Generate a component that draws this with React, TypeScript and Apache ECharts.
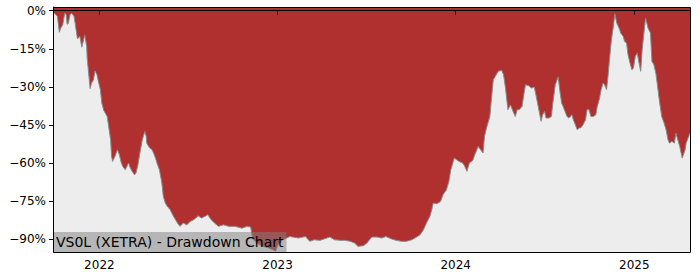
import React, { useEffect, useRef } from "react";
import * as echarts from "echarts";

const dates: string[] = [
  "2021-09-28","2021-09-30","2021-10-04","2021-10-07","2021-10-11","2021-10-14","2021-10-18","2021-10-22","2021-10-25","2021-10-27",
  "2021-10-29","2021-11-02","2021-11-05","2021-11-10","2021-11-12","2021-11-17","2021-11-19","2021-11-22","2021-11-26","2021-11-29",
  "2021-12-02","2021-12-06","2021-12-07","2021-12-10","2021-12-13","2021-12-16","2021-12-20","2021-12-23","2021-12-27","2021-12-30",
  "2022-01-03","2022-01-06","2022-01-10","2022-01-13","2022-01-17","2022-01-20","2022-01-24","2022-01-26","2022-01-28","2022-02-02",
  "2022-02-07","2022-02-11","2022-02-15","2022-02-18","2022-02-23","2022-02-28","2022-03-02","2022-03-04","2022-03-09","2022-03-14",
  "2022-03-17","2022-03-21","2022-03-25","2022-03-30","2022-04-04","2022-04-07","2022-04-08","2022-04-14","2022-04-19","2022-04-22",
  "2022-04-26","2022-04-29","2022-05-04","2022-05-09","2022-05-12","2022-05-16","2022-05-20","2022-05-26","2022-05-31","2022-06-06",
  "2022-06-10","2022-06-15","2022-06-22","2022-06-29","2022-07-06","2022-07-13","2022-07-20","2022-07-22","2022-07-29","2022-08-05",
  "2022-08-11","2022-08-18","2022-08-25","2022-09-02","2022-09-12","2022-09-23","2022-10-06","2022-10-20","2022-10-31","2022-11-07",
  "2022-11-09","2022-11-11","2022-11-22","2022-12-02","2022-12-12","2022-12-22","2022-12-28","2023-01-02","2023-01-12","2023-01-26",
  "2023-02-13","2023-02-27","2023-03-08","2023-03-17","2023-03-29","2023-04-06","2023-04-18","2023-04-28","2023-05-09","2023-05-19",
  "2023-05-30","2023-06-08","2023-06-15","2023-06-26","2023-07-03","2023-07-13","2023-07-24","2023-08-02","2023-08-11","2023-08-23",
  "2023-09-01","2023-09-12","2023-09-22","2023-10-03","2023-10-13","2023-10-20","2023-10-27","2023-11-02","2023-11-09","2023-11-13",
  "2023-11-16","2023-11-23","2023-12-01","2023-12-06","2023-12-13","2023-12-18","2023-12-22","2023-12-29","2024-01-08","2024-01-15",
  "2024-01-19","2024-01-24","2024-01-29","2024-02-05","2024-02-09","2024-02-16","2024-02-21","2024-02-26","2024-02-29","2024-03-05",
  "2024-03-11","2024-03-14","2024-03-18","2024-03-22","2024-03-28","2024-04-04","2024-04-08","2024-04-12","2024-04-17","2024-04-22",
  "2024-04-26","2024-05-02","2024-05-06","2024-05-10","2024-05-16","2024-05-20","2024-05-23","2024-05-30","2024-06-04","2024-06-10",
  "2024-06-14","2024-06-18","2024-06-24","2024-06-27","2024-07-01","2024-07-04","2024-07-10","2024-07-15","2024-07-18","2024-07-23",
  "2024-07-29","2024-08-01","2024-08-05","2024-08-08","2024-08-12","2024-08-16","2024-08-20","2024-08-26","2024-08-29","2024-09-02",
  "2024-09-06","2024-09-10","2024-09-13","2024-09-18","2024-09-23","2024-09-26","2024-09-30","2024-10-04","2024-10-09","2024-10-14",
  "2024-10-17","2024-10-21","2024-10-25","2024-10-29","2024-11-01","2024-11-05","2024-11-08","2024-11-11","2024-11-15","2024-11-19",
  "2024-11-22","2024-11-26","2024-12-02","2024-12-04","2024-12-09","2024-12-12","2024-12-16","2024-12-19","2024-12-23","2024-12-27",
  "2024-12-30","2025-01-03","2025-01-07","2025-01-10","2025-01-14","2025-01-17","2025-01-22","2025-01-24","2025-01-29","2025-02-03",
  "2025-02-06","2025-02-10","2025-02-14","2025-02-18","2025-02-21","2025-02-26","2025-03-03","2025-03-07","2025-03-11","2025-03-14",
  "2025-03-19","2025-03-24","2025-03-27","2025-03-31","2025-04-04","2025-04-09","2025-04-15","2025-04-17","2025-04-25",
];

const drawdown: number[] = [
  -0.5,-0.8,-1.6,-2.2,-8.5,-6.8,-5.5,-0.9,-1.6,-5.3,
  -5.1,-1.6,-0.9,-2.2,-4.5,-11.0,-10.8,-10.1,-14.4,-12.1,
  -9.5,-14.1,-18.6,-24.6,-30.7,-28.5,-27.2,-23.7,-25.2,-27.9,
  -31.1,-36.4,-39.3,-40.3,-41.7,-45.6,-50.9,-57.4,-59.4,-57.4,
  -54.8,-56.8,-60.0,-61.4,-62.7,-60.7,-60.0,-61.4,-63.3,-64.7,
  -64.0,-60.7,-56.1,-50.9,-47.6,-49.5,-52.2,-54.1,-54.8,-56.1,
  -58.1,-60.0,-62.7,-67.9,-73.2,-75.8,-77.1,-78.4,-80.4,-82.4,
  -83.7,-85.0,-83.7,-84.4,-83.1,-82.4,-81.3,-80.8,-81.7,-81.1,
  -80.4,-82.4,-83.7,-85.0,-84.4,-85.0,-85.0,-85.7,-85.0,-85.3,
  -87.6,-90.0,-91.9,-92.9,-93.4,-94.2,-94.8,-92.2,-90.3,-89.0,
  -89.6,-89.0,-90.9,-90.3,-90.5,-90.0,-89.2,-90.3,-90.5,-90.5,
  -90.9,-91.6,-92.9,-92.6,-91.6,-89.2,-89.2,-89.6,-89.0,-90.0,
  -90.5,-90.9,-90.9,-90.3,-89.2,-88.3,-86.3,-83.7,-81.1,-78.4,
  -75.8,-76.1,-75.2,-72.5,-70.6,-67.3,-62.7,-58.1,-59.4,-60.0,
  -61.1,-63.3,-60.0,-59.0,-56.8,-53.5,-54.8,-56.1,-49.5,-45.6,
  -41.7,-35.1,-27.2,-25.9,-23.9,-23.5,-25.2,-30.5,-39.0,-37.1,
  -39.0,-41.7,-39.0,-39.0,-37.7,-32.4,-29.2,-29.6,-30.5,-30.1,
  -33.8,-37.7,-43.6,-41.0,-39.7,-42.3,-42.3,-41.7,-36.4,-29.2,
  -26.1,-31.1,-36.4,-37.7,-39.7,-41.7,-42.3,-41.0,-43.0,-44.9,
  -46.9,-46.2,-46.2,-44.9,-43.0,-39.0,-39.0,-41.7,-41.7,-41.0,
  -37.7,-35.1,-31.1,-28.5,-29.2,-31.1,-25.9,-19.3,-11.4,-6.2,
  -1.2,-4.9,-7.5,-8.8,-10.1,-12.1,-12.7,-17.3,-20.6,-23.3,
  -22.6,-18.0,-16.7,-20.0,-23.9,-15.4,-6.2,-2.9,-6.8,-8.8,
  -20.0,-21.3,-24.6,-30.5,-35.1,-41.7,-44.3,-46.9,-50.9,-52.2,
  -51.5,-52.2,-48.2,-50.9,-53.5,-58.1,-54.8,-52.2,-48.2,
];

const yTicks: number[] = [0, -15, -30, -45, -60, -75, -90];
const yearTicks: string[] = ["2022-01-01", "2023-01-01", "2024-01-01", "2025-01-01"];
const titleText = "VS0L (XETRA) - Drawdown Chart";

const FONT = "DejaVu Sans";
const toTs = (d: string) => new Date(d + "T00:00:00Z").getTime();

export default function App() {
  const ref = useRef<HTMLDivElement>(null);
  useEffect(() => {
    if (!ref.current) return;
    const chart = echarts.init(ref.current, undefined, { renderer: "svg" });
    const L = 53, T = 7, R = 10, B = 28;
    const W = 700 - L - R, H = 280 - T - B;
    const yearTs = yearTicks.map(toTs);
    chart.setOption({
      animation: false,
      backgroundColor: "#ffffff",
      grid: {
        left: L, top: T, right: R, bottom: B,
        show: true, backgroundColor: "#b03030", borderWidth: 0,
      },
      title: {
        text: titleText,
        left: L, top: 232,
        padding: [3, 3, 3, 3],
        backgroundColor: "rgba(128,128,128,0.5)",
        textStyle: { fontFamily: FONT, fontSize: 14, lineHeight: 14, fontWeight: "normal", color: "#000" },
      },
      xAxis: {
        type: "value",
        min: toTs(dates[0]),
        max: toTs(dates[dates.length - 1]),
        axisLine: { show: true, lineStyle: { color: "#000", width: 1 } },
        splitLine: { show: false },
        axisTick: { show: true, length: 4, lineStyle: { color: "#000" }, customValues: yearTs },
        axisLabel: {
          fontFamily: FONT, fontSize: 12, color: "#000", margin: 7,
          customValues: yearTs,
          formatter: (v: number) => String(new Date(v).getUTCFullYear()),
        },
      },
      yAxis: {
        type: "value",
        min: -95.1, max: 1.46,
        axisLine: { show: true, lineStyle: { color: "#000", width: 1 } },
        splitLine: { show: false },
        axisTick: { show: true, length: 4, lineStyle: { color: "#000" }, customValues: yTicks },
        axisLabel: {
          fontFamily: FONT, fontSize: 12, color: "#000", margin: 7,
          customValues: yTicks,
          formatter: (v: number) => (v < 0 ? "\u2212" + Math.abs(v) : String(v)) + "%",
        },
      },
      series: [
        {
          type: "line",
          data: dates.map((d, i) => [toTs(d), drawdown[i]]),
          showSymbol: false,
          symbol: "none",
          lineStyle: { color: "#8a8a8a", width: 1 },
          areaStyle: { color: "#ededed", opacity: 1, origin: "start" },
          z: 2,
        },
      ],
      graphic: [
        {
          type: "rect",
          shape: { x: L + 0.5, y: T + 0.5, width: W, height: H },
          style: { fill: "none", stroke: "#000", lineWidth: 1 },
          z: 100,
          silent: true,
        },
      ],
    });
    return () => chart.dispose();
  }, []);
  return (
    <div
      ref={ref}
      style={{ position: "absolute", left: 0, top: 0, width: 700, height: 280 }}
    />
  );
}
